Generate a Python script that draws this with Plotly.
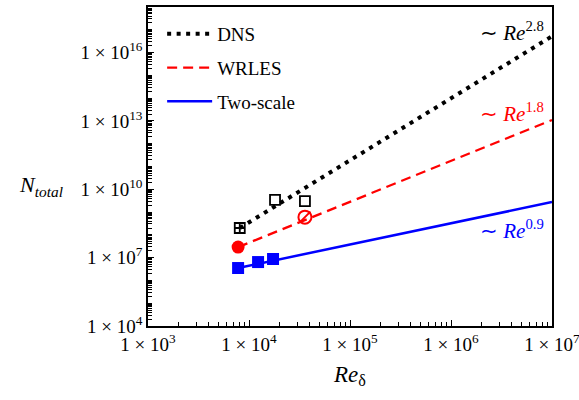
import plotly.graph_objects as go

# --- data ---
dns_x = [8.1e3, 1.81e4, 3.58e4]
dns_y = [2.0e8, 3.4e9, 3.0e9]
dns_marker = ["square-cross-open", "square-open", "square-open"]
dns_fit_x = [8.1e3, 1.0e7]
dns_fit_y = [2.0e8, 5.2e16]

wrles_x = [7.8e3, 3.58e4]
wrles_y = [2.9e7, 6.0e8]
wrles_fit_x = [7.8e3, 1.0e7]
wrles_fit_y = [2.9e7, 1.1e13]

two_x = [7.8e3, 1.23e4, 1.73e4]
two_y = [3.5e6, 6.4e6, 8.7e6]
two_fit_x = [7.8e3, 1.0e7]
two_fit_y = [3.5e6, 2.75e9]

x_ticks = [1e3, 1e4, 1e5, 1e6, 1e7]
x_ticktext = ["1 × 10<sup>3</sup>", "1 × 10<sup>4</sup>", "1 × 10<sup>5</sup>",
              "1 × 10<sup>6</sup>", "1 × 10<sup>7</sup>"]
y_ticks = [1e4, 1e7, 1e10, 1e13, 1e16]
y_ticktext = ["1 × 10<sup>4</sup>", "1 × 10<sup>7</sup>", "1 × 10<sup>10</sup>",
              "1 × 10<sup>13</sup>", "1 × 10<sup>16</sup>"]

FONT = "Liberation Serif, Times New Roman, serif"
fig = go.Figure()

fig.add_trace(go.Scatter(x=dns_fit_x, y=dns_fit_y, mode="lines", name="DNS",
                         legendgroup="a",
                         line=dict(color="black", width=4, dash="4px,5.5px")))
fig.add_trace(go.Scatter(x=wrles_fit_x, y=wrles_fit_y, mode="lines", name="WRLES",
                         legendgroup="b",
                         line=dict(color="red", width=2.3, dash="10px,6px")))
fig.add_trace(go.Scatter(x=two_fit_x, y=two_fit_y, mode="lines", name="Two-scale",
                         legendgroup="c",
                         line=dict(color="blue", width=2.5)))

# markers
fig.add_trace(go.Scatter(x=dns_x, y=dns_y, mode="markers", showlegend=False,
                         marker=dict(symbol=dns_marker, size=10, color="black",
                                     line=dict(width=1.8, color="black"))))
fig.add_trace(go.Scatter(x=wrles_x[:1], y=wrles_y[:1], mode="markers", showlegend=False,
                         marker=dict(symbol="circle", size=13, color="red")))
fig.add_trace(go.Scatter(x=wrles_x[1:], y=wrles_y[1:], mode="markers", showlegend=False,
                         marker=dict(symbol="circle-open", size=13, color="red",
                                     line=dict(width=2, color="red"))))
fig.add_trace(go.Scatter(x=wrles_x[1:], y=wrles_y[1:], mode="markers", showlegend=False,
                         marker=dict(symbol="line-ne", size=11, color="red",
                                     line=dict(width=2, color="red"))))
fig.add_trace(go.Scatter(x=two_x, y=two_y, mode="markers", showlegend=False,
                         marker=dict(symbol="square", size=12, color="blue")))

for txt, col, yp in [("∼ <i>Re</i><sup>2.8</sup>", "black", 0.922),
                     ("∼ <i>Re</i><sup>1.8</sup>", "red", 0.668),
                     ("∼ <i>Re</i><sup>0.9</sup>", "blue", 0.301)]:
    fig.add_annotation(xref="paper", yref="paper", x=0.985, y=yp, text=txt,
                       showarrow=False, xanchor="right", yanchor="middle",
                       font=dict(family=FONT, size=21, color=col))

fig.add_annotation(xref="paper", yref="paper", x=-0.205, y=0.44,
                   text="<i>N</i><sub><i>total</i></sub>", showarrow=False,
                   xanchor="right", yanchor="middle",
                   font=dict(family=FONT, size=22, color="black"))

axis_common = dict(type="log", showline=True, linecolor="black", linewidth=1.5,
                   mirror=True, ticks="inside", ticklen=6, tickcolor="black",
                   showgrid=False, zeroline=False, ticklabeloverflow="allow",
                   tickfont=dict(family=FONT, size=19, color="black"))

fig.update_xaxes(range=[3, 7], tickvals=x_ticks, ticktext=x_ticktext,
                 minor=dict(ticks="inside", ticklen=4, tickcolor="black",
                            dtick="D1", showgrid=False),
                 title=dict(text="<i>Re</i><sub>δ</sub>",
                            font=dict(family=FONT, size=23, color="black"),
                            standoff=12),
                 **axis_common)
fig.update_yaxes(range=[4, 18], tickvals=y_ticks, ticktext=y_ticktext,
                 minor=dict(ticks="inside", ticklen=4, tickcolor="black",
                            dtick="D1", showgrid=False),
                 **axis_common)

fig.update_layout(
    width=579, height=400,
    margin=dict(l=148, r=27, t=7, b=74, autoexpand=False),
    paper_bgcolor="white", plot_bgcolor="white",
    font=dict(family=FONT, color="black"),
    legend=dict(x=0.035, y=0.975, xanchor="left", yanchor="top",
                traceorder="grouped", tracegroupgap=6, itemwidth=45,
                font=dict(family=FONT, size=19, color="black"),
                bgcolor="rgba(0,0,0,0)"),
)

fig.write_html("out.html")
